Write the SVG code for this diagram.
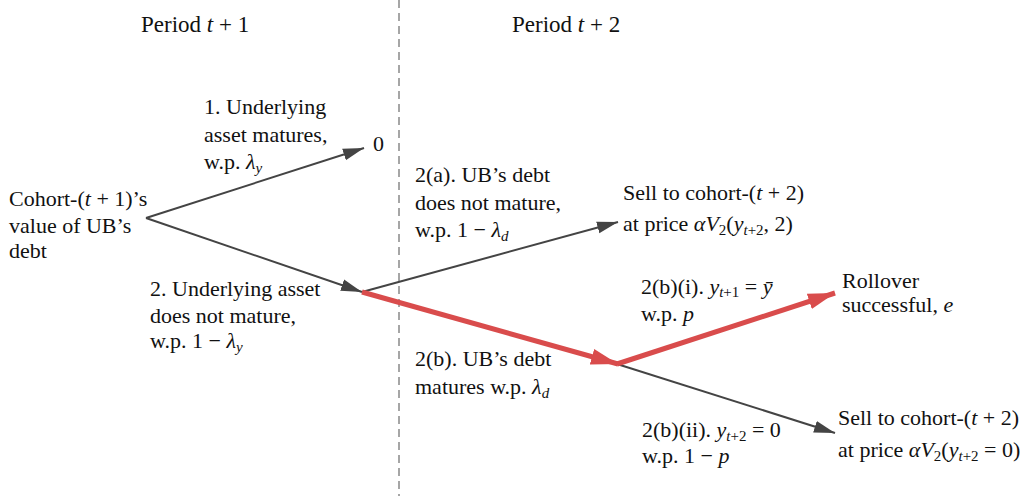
<svg xmlns="http://www.w3.org/2000/svg" width="1035" height="496" viewBox="0 0 1035 496">
<style>
text{font-family:"Liberation Serif","DejaVu Serif",serif;font-size:22px;fill:#111}
.h{font-size:23px}
.i{font-style:italic}
.s{font-size:15px}
.g{stroke:#444;stroke-width:2;fill:none}
.r{stroke:#d94c4c;stroke-width:5;fill:none}
</style>
<defs>
<marker id="ag" markerUnits="userSpaceOnUse" markerWidth="22" markerHeight="14" refX="21" refY="7" orient="auto"><path d="M0,1 L21,7 L0,13 z" fill="#444"/></marker>
<marker id="ar" markerUnits="userSpaceOnUse" markerWidth="28" markerHeight="20" refX="27" refY="10" orient="auto"><path d="M0,2 L27,10 L0,18 z" fill="#d94c4c"/></marker>
</defs>
<line x1="399" y1="0" x2="399" y2="496" stroke="#777" stroke-width="1.3" stroke-dasharray="8,5"/>
<text class="h" x="141" y="32">Period <tspan class="i">t</tspan> + 1</text>
<text class="h" x="512" y="32">Period <tspan class="i">t</tspan> + 2</text>
<g id="connectors">
<line class="g" x1="146" y1="218" x2="364" y2="148" marker-end="url(#ag)"/>
<line class="g" x1="146" y1="218" x2="362" y2="292" marker-end="url(#ag)"/>
<line class="g" x1="362" y1="292" x2="618" y2="222" marker-end="url(#ag)"/>
<line class="g" x1="617" y1="364" x2="835" y2="433" marker-end="url(#ag)"/>
<line class="r" x1="362" y1="292" x2="618" y2="364" marker-end="url(#ar)"/>
<line class="r" x1="617" y1="364" x2="835" y2="293" marker-end="url(#ar)"/>
</g>
<g id="root">
<text x="9" y="206">Cohort-(<tspan class="i">t</tspan> + 1)’s</text>
<text x="9" y="233">value of UB’s</text>
<text x="9" y="258">debt</text>
</g>
<g id="label1">
<text x="204" y="114">1. Underlying</text>
<text x="204" y="142">asset matures,</text>
<text x="204" y="169">w.p. <tspan class="i">λ</tspan><tspan class="s i" dy="4">y</tspan></text>
</g>
<g id="zero"><text x="373" y="151">0</text></g>
<g id="label2">
<text x="150" y="296">2. Underlying asset</text>
<text x="150" y="323">does not mature,</text>
<text x="150" y="348">w.p. 1 − <tspan class="i">λ</tspan><tspan class="s i" dy="4">y</tspan></text>
</g>
<g id="label2a">
<text x="415" y="182">2(a). UB’s debt</text>
<text x="415" y="210">does not mature,</text>
<text x="415" y="237">w.p. 1 − <tspan class="i">λ</tspan><tspan class="s i" dy="4">d</tspan></text>
</g>
<g id="sell1">
<text x="623" y="200">Sell to cohort-(<tspan class="i">t</tspan> + 2)</text>
<text x="623" y="231">at price <tspan class="i">αV</tspan><tspan class="s" dy="4">2</tspan><tspan dy="-4">(</tspan><tspan class="i">y</tspan><tspan class="s" dy="4"><tspan class="i">t</tspan>+2</tspan><tspan dy="-4">, 2)</tspan></text>
</g>
<g id="label2b">
<text x="415" y="366">2(b). UB’s debt</text>
<text x="415" y="394">matures w.p. <tspan class="i">λ</tspan><tspan class="s i" dy="4">d</tspan></text>
</g>
<g id="label2bi">
<text x="641" y="294">2(b)(i). <tspan class="i">y</tspan><tspan class="s" dy="3"><tspan class="i">t</tspan>+1</tspan><tspan dy="-3"> = </tspan><tspan class="i">ȳ</tspan></text>
<text x="641" y="321">w.p. <tspan class="i">p</tspan></text>
</g>
<g id="rollover">
<text x="842" y="288">Rollover</text>
<text x="842" y="312">successful, <tspan class="i">e</tspan></text>
</g>
<g id="label2bii">
<text x="642" y="437">2(b)(ii). <tspan class="i">y</tspan><tspan class="s" dy="4"><tspan class="i">t</tspan>+2</tspan><tspan dy="-4"> = 0</tspan></text>
<text x="642" y="463">w.p. 1 − <tspan class="i">p</tspan></text>
</g>
<g id="sell2">
<text x="838" y="425">Sell to cohort-(<tspan class="i">t</tspan> + 2)</text>
<text x="838" y="457">at price <tspan class="i">αV</tspan><tspan class="s" dy="4">2</tspan><tspan dy="-4">(</tspan><tspan class="i">y</tspan><tspan class="s" dy="4"><tspan class="i">t</tspan>+2</tspan><tspan dy="-4"> = 0)</tspan></text>
</g>
</svg>
